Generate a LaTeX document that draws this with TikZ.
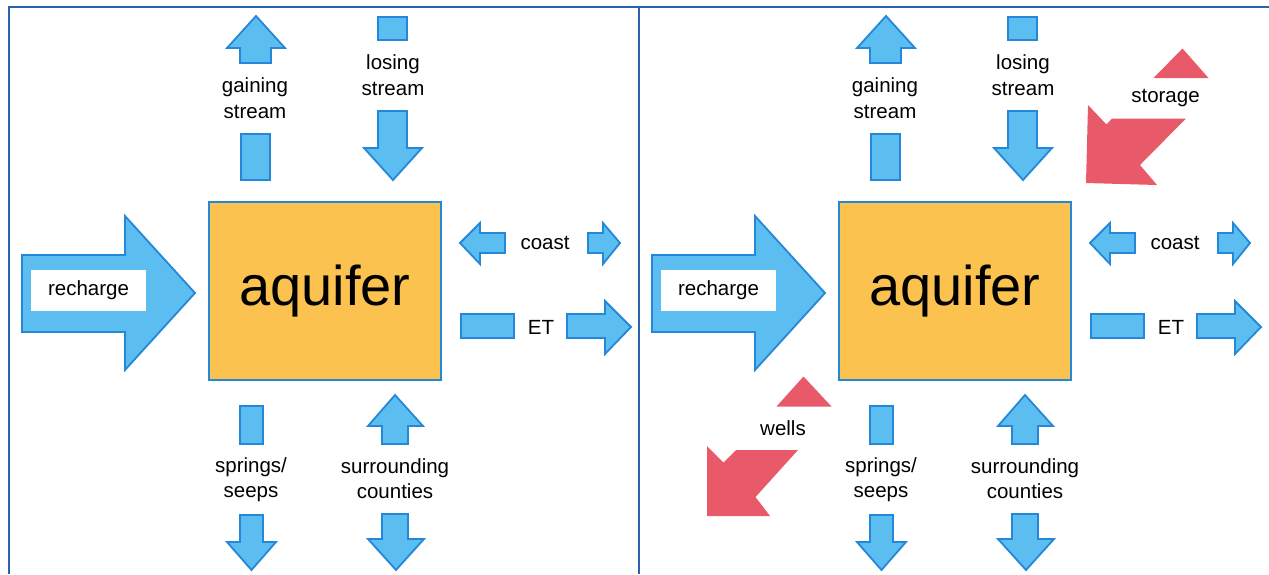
\documentclass[tikz,border=0pt]{standalone}
\usepackage{fontspec}
\setmainfont{Liberation Sans}
\definecolor{water}{HTML}{5BBDF0}
\definecolor{waterline}{HTML}{2488D8}
\definecolor{sand}{HTML}{FCC24F}
\definecolor{loss}{HTML}{E8596A}
\definecolor{panel}{HTML}{2D63AE}
\tikzset{
  flow/.style={fill=water, draw=waterline, line width=1.8pt, line join=miter},
  lbl/.style={font=\fontsize{20.5}{25.5}\selectfont, align=center, inner sep=0pt},
  store/.style={fill=loss},
}

\begin{document}
\begin{tikzpicture}[x=1pt, y=-1pt]
  \useasboundingbox (0,0) rectangle (1269,574);
  % panel frames
  \draw [panel, line width=2pt] (9,574) -- (9,7) -- (1269,7);
  \draw [panel, line width=2pt] (639,7) -- (639,574);

  \foreach \p/\dx in {a/0, b/630} {
    \begin{scope}[xshift=\dx pt]
      % recharge
      \draw [flow] (22,255) -- (125,255) -- (125,216) -- (195,293) -- (125,370) -- (125,332) -- (22,332) -- cycle;
      \node [lbl, fill=white, minimum width=115pt, minimum height=41pt] (rch\p) at (88.5,290.5) {recharge};
      % gaining stream
      \draw [flow] (240,63) -- (240,48) -- (227,48) -- (256,16) -- (285,48) -- (271,48) -- (271,63) -- cycle;
      \draw [flow] (241,134) rectangle (270,180);
      \node [lbl] (gain\p) at (255,98) {gaining\\stream};
      % losing stream
      \draw [flow] (378,17) rectangle (407,40);
      \draw [flow] (378,111) -- (378,148) -- (364,148) -- (393,180) -- (422,148) -- (407,148) -- (407,111) -- cycle;
      \node [lbl] (lose\p) at (393,75) {losing\\stream};
      % coast
      \draw [flow] (505,233) -- (480,233) -- (480,223) -- (460,243) -- (480,264) -- (480,253) -- (505,253) -- cycle;
      \draw [flow] (588,233) -- (603,233) -- (603,223) -- (620,243) -- (603,264) -- (603,253) -- (588,253) -- cycle;
      \node [lbl] (coast\p) at (545,243) {coast};
      % ET
      \draw [flow] (461,314) rectangle (514,338);
      \draw [flow] (567,314) -- (605,314) -- (605,301) -- (631,327) -- (605,354) -- (605,338) -- (567,338) -- cycle;
      \node [lbl] (et\p) at (541,327) {ET};
      % springs / seeps
      \draw [flow] (240,406) rectangle (263,444);
      \draw [flow] (240,515) -- (263,515) -- (263,542) -- (276,542) -- (251.5,570) -- (227,542) -- (240,542) -- cycle;
      \node [lbl] (spr\p) at (251,479.5) {springs/\\seeps};
      % surrounding counties
      \draw [flow] (382,444) -- (382,426) -- (368,426) -- (395,395) -- (423,426) -- (408,426) -- (408,444) -- cycle;
      \draw [flow] (382,514) -- (408,514) -- (408,539) -- (424,539) -- (396,570) -- (368,539) -- (382,539) -- cycle;
      \node [lbl] (sur\p) at (395,478.5) {surrounding\\counties};
      % aquifer
      \node [fill=sand, draw=waterline, line width=2.5pt, minimum width=232pt, minimum height=178pt,
             font=\fontsize{56}{60}\selectfont] (aq\p) at (325,291) {aquifer};
    \end{scope}
  }

  % storage
  \fill [store] (1153.5,78) -- (1182.5,48.5) -- (1208.5,78) -- cycle;
  \fill [store] (1088,105) -- (1106.5,124.5) -- (1112,118.5) -- (1186,118.5) -- (1140,165) -- (1157,185) -- (1086,183) -- cycle;
  \node [lbl] (storage) at (1165.5,98) {storage};
  % wells
  \fill [store] (776.5,406.5) -- (803.5,376.5) -- (831.5,406.5) -- cycle;
  \fill [store] (707,446) -- (723.5,462.5) -- (736,450) -- (798,450) -- (755.5,497) -- (770,516) -- (707,516) -- cycle;
  \node [lbl] (wells) at (783,428) {wells};
\end{tikzpicture}
\end{document}
